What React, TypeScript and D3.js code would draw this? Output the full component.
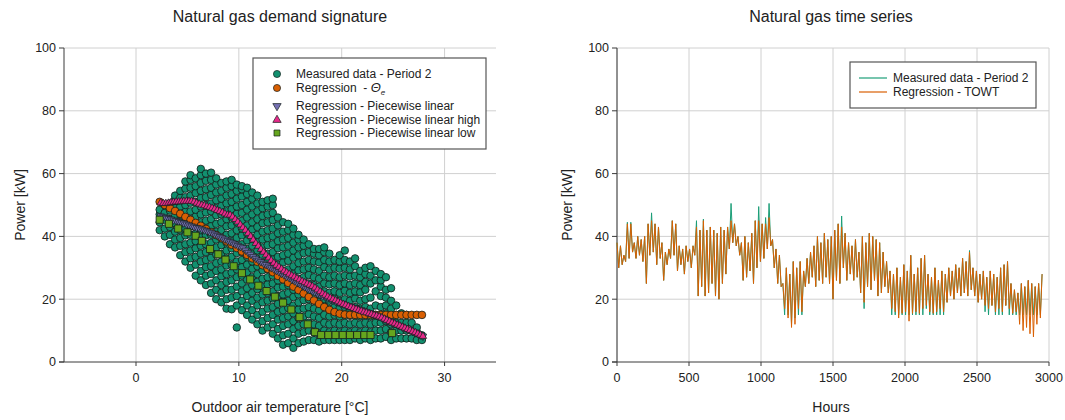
import React from 'react';
import { scaleLinear, line, symbol, symbolCircle, symbolTriangle, symbolSquare } from 'd3';

// ---- axes ----
const tempTicks = [0, 10, 20, 30];
const powerTicks = [0, 20, 40, 60, 80, 100];
const hourTicks = [0, 500, 1000, 1500, 2000, 2500, 3000];

// ---- left chart: measured cloud, one column of power values per temperature ----
const measuredCloud: [number, number[]][] = [
    [2.3, [42, 44.5, 47, 48.5]],
    [2.8, [40, 42.5, 45.3, 47.5, 50]],
    [3.3, [37.5, 40.5, 43, 45.5, 48.2, 50.5]],
    [3.8, [36.5, 39, 41.5, 44.2, 46.5, 49, 51.8, 53]],
    [4.3, [34, 37, 39.5, 42, 44.8, 47, 49.5, 52.3, 54.5]],
    [4.8, [32, 35, 37.5, 40.3, 42.5, 45, 47.8, 50, 52.5, 55.2, 57.5]],
    [5.3, [30, 33, 35.5, 38, 40.5, 43.2, 45.5, 48, 50.7, 53, 55.5, 58, 59.5]],
    [5.8, [27.5, 31, 33.5, 36.2, 38.5, 41, 43.5, 46.3, 48.5, 51, 53.8, 56, 58.5]],
    [6.3, [26, 29, 32, 34.5, 37, 39.7, 42, 44.5, 47, 49.5, 52.2, 54.5, 57, 59.5, 61.5]],
    [6.8, [24.5, 27.5, 30.2, 32.5, 35, 37.5, 40.3, 42.5, 45, 47.6, 50, 52.5, 55, 57.7, 60]],
    [7.3, [22, 25, 28, 30.5, 33.2, 35.5, 38, 40.5, 43.3, 45.5, 48, 50.5, 53.2, 55.5, 58, 60.3]],
    [7.8, [20, 23, 26, 29, 31.5, 34.2, 36.5, 39, 41.5, 44, 46.7, 49, 51.5, 54, 56.5, 58.5]],
    [8.3, [19, 22, 24.5, 27.3, 29.5, 32, 34.5, 37.2, 39.5, 42, 44.5, 47, 49.7, 52, 54.5, 57]],
    [8.8, [17, 20, 23, 25.5, 28, 30.7, 33, 35.5, 38, 40.5, 43.2, 45.5, 48, 50.5, 53, 55.5, 57.5]],
    [9.3, [16.8, 20.5, 23, 26, 28.5, 31, 33.5, 36.2, 38.5, 41, 43.5, 46, 48.7, 51, 53.5, 56, 58]],
    [9.8, [11, 18, 21, 24, 27, 29.5, 32, 34.7, 37, 39.5, 42, 44.5, 47.2, 49.5, 52, 54.5, 56.5]],
    [10.3, [16.5, 19.5, 22.5, 25, 27.5, 30.2, 32.5, 35, 37.5, 40.3, 42.5, 45, 47.5, 50, 52.7, 55, 56]],
    [10.8, [15, 18, 21, 23.5, 26.2, 28.5, 31, 33.5, 36, 38.7, 41, 43.5, 46, 48.5, 51, 53.5, 55.5]],
    [11.3, [13.5, 16.5, 19.5, 22, 24.5, 27, 29.7, 32, 34.5, 37, 39.5, 42.2, 44.5, 47, 49.5, 52, 54]],
    [11.8, [12, 15, 18, 20.5, 23.2, 25.5, 28, 30.5, 33, 35.5, 38.2, 40.5, 43, 45.5, 48, 50.5, 53]],
    [12.3, [10, 13, 16, 19, 21.5, 24, 26.5, 29.2, 31.5, 34, 36.5, 39, 41.5, 44.2, 46.5, 49, 51]],
    [12.8, [11, 14, 17, 19.5, 22, 24.7, 27, 29.5, 32, 34.5, 37.2, 39.5, 42, 44.5, 47, 49.5, 51.5]],
    [13.3, [9, 12, 15, 17.5, 20.2, 22.5, 25, 27.5, 30, 32.7, 35, 37.5, 40, 42.5, 45.2, 47.5, 50, 52]],
    [13.8, [7.5, 10.5, 13.5, 16, 18.5, 21, 23.7, 26, 28.5, 31, 33.5, 36.2, 38.5, 41, 43.5, 46]],
    [14.3, [5.5, 8.5, 11.5, 14, 16.5, 19.2, 21.5, 24, 26.5, 29, 31.7, 34, 36.5, 39, 41.5, 44.5]],
    [14.8, [6, 9, 12, 14.5, 17.2, 19.5, 22, 24.5, 27, 29.5, 32.2, 34.5, 37, 39.5, 42, 44]],
    [15.3, [4.5, 7.5, 10.5, 13, 15.5, 18, 20.7, 23, 25.5, 28, 30.5, 33.2, 35.5, 38, 40.5, 42.5]],
    [15.8, [6, 9, 11.5, 14, 16.7, 19, 21.5, 24, 26.5, 29.2, 31.5, 34, 36.5, 39, 40.5]],
    [16.3, [6.5, 9.5, 12, 14.5, 17, 19.7, 22, 24.5, 27, 29.5, 32, 34.7, 37, 39]],
    [16.8, [7, 10, 12.5, 15.2, 17.5, 20, 22.5, 25, 27.7, 30, 32.5, 35, 37.5]],
    [17.3, [7, 9.5, 12, 14.5, 17, 19.5, 22.2, 24.5, 27, 29.5, 32, 34.5, 36]],
    [17.8, [6.5, 9, 11.5, 14, 16.5, 19.2, 21.5, 24, 26.5, 29, 31.7, 34, 36]],
    [18.3, [7, 10, 12.5, 15, 17.7, 20, 22.5, 25, 27.5, 30.2, 32.5, 35, 36.5]],
    [18.8, [7, 9.5, 12, 14.5, 17, 19.5, 22, 24.7, 27, 29.5, 32, 34.5]],
    [19.3, [7, 10, 12.5, 15, 17.5, 20.2, 22.5, 25, 27.5, 30, 32.5]],
    [19.8, [7, 9.5, 12, 14.5, 17.2, 19.5, 22, 24.5, 27, 29.7, 32, 34]],
    [20.3, [7, 10, 12.5, 15, 17.5, 20, 22.7, 25, 27.5, 30, 32.5, 35.5]],
    [20.8, [7, 9.5, 12, 14.7, 17, 19.5, 22, 24.5, 27.2, 29.5, 32]],
    [21.3, [7.5, 10, 12.5, 15, 17.5, 20.2, 22.5, 25, 27.5, 30.5, 33]],
    [21.8, [7, 9.5, 12, 14.5, 17, 19.5, 22.2, 24.5, 27, 29]],
    [22.3, [7.5, 10, 12.5, 15, 17.5, 20, 23, 25.5, 28, 30]],
    [22.8, [7, 9.5, 12, 14.5, 17, 20.5, 25, 27.5, 30.5]],
    [23.3, [7.5, 10, 12.5, 15, 18, 22.5, 26, 29]],
    [23.8, [7.5, 10, 12.5, 15, 17.5, 21, 24, 26, 28]],
    [24.3, [8, 10.5, 13, 15.5, 18, 20.5, 23, 27]],
    [24.8, [7, 9.5, 12, 14.5, 17, 19.5, 23.5]],
    [25.3, [7.5, 10, 12.5, 15, 18]],
    [25.8, [7.5, 10, 12.5, 15.5]],
    [26.3, [7.5, 10, 12.5, 15]],
    [26.8, [7.5, 10, 12.5]],
    [27.3, [7, 9.5, 11]],
    [27.8, [7, 8.5]],
];

// regression - theta_e (orange circles)
const thetaTemps = [2.3, 2.8, 3.3, 3.8, 4.3, 4.8, 5.3, 5.8, 6.3, 6.8, 7.3, 7.8, 8.3, 8.8, 9.3, 9.8, 10.3, 10.8, 11.3, 11.8,
    12.3, 12.8, 13.3, 13.8, 14.3, 14.8, 15.3, 15.8, 16.3, 16.8, 17.3, 17.8, 18.3, 18.8, 19.3, 19.8, 20.3, 20.8,
    21.3, 21.8, 22.3, 22.8, 23.3, 23.8, 24.3, 24.8, 25.3, 25.8, 26.3, 26.8, 27.3, 27.8];
const thetaPowers = [51, 50, 49, 48.1, 47.2, 46.2, 45.3, 44.3, 43.4, 42.4, 41.4, 40.4, 39.4, 38.4, 37.3, 36.3, 35.2, 34.1, 33, 31.9,
    30.8, 29.7, 28.6, 27.4, 26.3, 25.2, 24, 22.9, 21.8, 20.7, 19.6, 18.5, 17.5, 16.6, 15.9, 15.4, 15.1, 15,
    15, 15, 15, 15, 15, 15, 15, 15, 15, 15, 15, 15, 15, 15];

// piecewise linear (purple) and high (pink) share the temperatures
const pieceTemps = [2.4, 2.65, 2.9, 3.15, 3.4, 3.65, 3.9, 4.15, 4.4, 4.65, 4.9, 5.15, 5.4, 5.65, 5.9, 6.15, 6.4, 6.65, 6.9, 7.15,
    7.4, 7.65, 7.9, 8.15, 8.4, 8.65, 8.9, 9.15, 9.4, 9.65, 9.9, 10.15, 10.4, 10.65, 10.9, 11.15, 11.4, 11.65, 11.9, 12.15,
    12.4, 12.65, 12.9, 13.15, 13.4, 13.65, 13.9, 14.15, 14.4, 14.65, 14.9, 15.15, 15.4, 15.65, 15.9, 16.15, 16.4, 16.65, 16.9, 17.15,
    17.4, 17.65, 17.9, 18.15, 18.4, 18.65, 18.9, 19.15, 19.4, 19.65, 19.9, 20.15, 20.4, 20.65, 20.9, 21.15, 21.4, 21.65, 21.9, 22.15,
    22.4, 22.65, 22.9, 23.15, 23.4, 23.65, 23.9, 24.15, 24.4, 24.65, 24.9, 25.15, 25.4, 25.65, 25.9, 26.15, 26.4, 26.65, 26.9, 27.15,
    27.4, 27.65, 27.9];
const piecePowers = [46.5, 46.2, 46, 45.7, 45.5, 45.2, 45, 44.7, 44.4, 44.2, 43.9, 43.6, 43.3, 43, 42.8, 42.6, 42.3, 42, 41.7, 41.4,
    41.1, 40.7, 40.3, 39.9, 39.5, 39.1, 38.7, 38.3, 37.9, 37.5, 37.1, 36.7, 36.3, 35.6, 34.9, 34.3, 33.6, 33, 32.4, 31.9,
    31.4, 31, 30.5, 30, 29.6, 29.1, 28.7, 28.2, 27.7, 27.2, 26.8, 26.3, 25.8, 25.3, 24.9, 24.4, 23.9, 23.4, 23, 22.6,
    22.2, 21.8, 21.4, 21, 20.7, 20.3, 20, 19.6, 19.3, 19, 18.7, 18.4, 18.1, 17.8, 17.6, 17.3, 17.1, 16.8, 16.6, 16.3,
    16, 15.7, 15.4, 15.1, 14.8, 14.5, 14.1, 13.7, 13.3, 12.9, 12.5, 12.2, 11.8, 11.5, 11.1, 10.8, 10.4, 10.1, 9.7, 9.4,
    9, 8.6, 8.2];
const highPowers = [50.7, 50.5, 50.5, 50.6, 50.8, 50.9, 51, 51, 51.1, 51.2, 51.2, 51.2, 51.2, 51, 50.6, 50.3, 50, 49.8, 49.5, 49.3,
    49, 48.7, 48.3, 48, 47.6, 47.2, 46.8, 46.8, 46.2, 45.4, 44.6, 43.7, 42.8, 42, 41, 40, 38.9, 37.8, 36.9, 35.9,
    35, 34.1, 33.2, 32.3, 31.5, 30.8, 30.2, 29.6, 29, 28.5, 28, 27.5, 27.1, 26.6, 26.2, 25.7, 25.3, 24.9, 24.5, 24.1,
    23.6, 23, 22.4, 21.8, 21.3, 20.8, 20.4, 20, 19.6, 19.2, 18.8, 18.4, 18.1, 17.7, 17.4, 17.1, 16.8, 16.5, 16.2, 15.9,
    15.7, 15.4, 15.2, 14.9, 14.7, 14.4, 14.1, 13.7, 13.3, 12.9, 12.5, 12.2, 11.8, 11.5, 11.1, 10.8, 10.4, 10.1, 9.7, 9.4,
    9, 8.6, 8.2];

// piecewise linear low (green squares)
const lowTemps = [2.3, 3.2, 4.1, 5.0, 5.8, 6.4, 7.2, 8.0, 8.7, 9.5, 10.3, 11.1, 11.9, 12.7, 13.5, 14.3, 15.1, 15.9, 16.7, 17.4,
    18.0, 18.7, 19.4, 20.1, 20.8, 21.5, 22.2, 22.8, 24.9];
const lowPowers = [45.3, 44, 42.5, 41.3, 40.2, 38.6, 36, 34.3, 32.6, 30.5, 28.3, 26.3, 24.3, 22.6, 20.8, 18.9, 16.7, 14.3, 12, 9.5,
    8.6, 8.6, 8.6, 8.6, 8.6, 8.6, 8.6, 8.6, 9.2];

// ---- right chart: values every 12 hours (day peak, night low) ----
const stepHours = 12;
const measuredHourly = [
    38, 30, 37, 31, 34, 32, 44.5, 33, 44.5, 35, 38, 33, 40, 34, 39, 32, 40, 25, 44, 34,
    47.5, 35, 44, 31, 43, 33, 38, 26, 35, 31, 36, 33, 45, 34, 44, 29, 37, 31, 36, 28,
    37, 32, 36, 30, 37, 34, 45, 21, 42, 24, 45.5, 21, 42, 22, 43, 25, 42, 21, 41, 20,
    43, 25, 42, 28, 43, 36, 50.5, 38, 44, 37, 40, 34, 38, 26, 40, 27, 38, 29, 41, 25,
    45, 30, 49.5, 32, 44, 33, 46, 36, 50.5, 37, 39, 30, 36, 25, 34, 24, 25, 15, 30, 15,
    28, 12, 32, 14, 30, 15, 32, 15, 29, 24, 33, 25, 35, 27, 37, 24, 40, 26, 38, 25,
    41, 27, 39, 25, 40, 20, 42, 26, 44, 25, 46.5, 30, 41, 26, 38, 28, 37, 26, 39, 27,
    35, 22, 40, 17, 38, 24, 41, 23, 40, 26, 39, 21, 38, 22, 35, 24, 32, 22, 29, 15,
    28, 15, 30, 15, 27, 15, 31, 15, 29, 15, 34, 15, 28, 15, 30, 15, 33, 15, 34, 17,
    28, 15, 27, 15, 30, 15, 26, 15, 29, 15, 28, 19, 30, 21, 29, 20, 31, 22, 30, 21,
    33, 22, 32, 21, 35.5, 23, 30, 21, 29, 19, 28, 20, 29, 16, 27, 15, 29, 18, 28, 15,
    27, 15, 30, 15, 31, 18, 32, 15, 25, 15, 23, 15, 22, 15, 25, 15, 24, 15, 26, 15,
    25, 15, 24, 15, 25, 15, 28,
];
const towtHourly = [
    38, 30, 37, 31, 34, 32, 44, 33, 44, 35, 38, 33, 40, 34, 39, 32, 40, 25, 44, 34,
    45, 35, 44, 31, 43, 33, 38, 26, 35, 31, 36, 33, 45, 34, 44, 29, 37, 31, 36, 28,
    37, 32, 36, 30, 37, 34, 43, 21, 42, 24, 45, 21, 42, 22, 43, 25, 42, 21, 41, 20,
    43, 25, 42, 28, 43, 36, 45, 38, 44, 37, 40, 34, 38, 26, 40, 27, 38, 29, 41, 25,
    45, 30, 45, 32, 44, 33, 44, 36, 46, 37, 39, 30, 36, 25, 34, 24, 25, 17, 30, 14,
    28, 11, 32, 12, 30, 17, 32, 16, 29, 24, 33, 25, 35, 27, 37, 24, 40, 26, 38, 25,
    41, 27, 39, 25, 40, 20, 42, 26, 44, 25, 43, 30, 41, 26, 38, 28, 37, 26, 39, 27,
    35, 22, 40, 19, 38, 24, 41, 23, 40, 26, 39, 21, 38, 22, 35, 24, 32, 22, 29, 17,
    28, 16, 30, 14, 27, 15.5, 31, 16, 29, 13, 34, 15.5, 28, 16, 30, 15.5, 33, 17, 34, 18,
    28, 16, 27, 15.5, 30, 16, 26, 17, 29, 16, 28, 19, 30, 21, 29, 20, 31, 22, 30, 21,
    33, 22, 32, 21, 35, 23, 30, 21, 29, 19, 28, 20, 29, 18, 27, 17, 29, 18, 28, 16,
    27, 17, 30, 16, 31, 18, 32, 17, 25, 15.5, 23, 16, 22, 12, 25, 10, 24, 11, 26, 9,
    25, 8, 24, 12, 25, 14, 28,
];

const teal = '#1b9e77';
const dotTeal = '#12906f';
const orange = '#d95f02';
const purple = '#7570b3';
const pink = '#e7298a';
const green = '#66a61e';
const edge = '#14201c';
const grid = '#d0d0d0';
const axisColor = '#3a3a3a';
const font = "'Liberation Sans', Arial, sans-serif";

const plotTop = 48;
const plotBottom = 362;

const Frame = (props: { x: any, y: any, xTicks: number[], xLeft: number, xRight: number, xTitle: string, title: string, titleX: number, yTitleX: number }) => {
    const { x, y } = props;
    return (
        <g fontFamily={font} fill='#222'>
            {props.xTicks.map(t => <line key={'gx' + t} x1={x(t)} x2={x(t)} y1={plotTop} y2={plotBottom} stroke={grid} />)}
            {powerTicks.filter(t => t > 0).map(t => <line key={'gy' + t} x1={props.xLeft} x2={props.xRight} y1={y(t)} y2={y(t)} stroke={grid} />)}
            <line x1={props.xLeft} x2={props.xLeft} y1={plotTop} y2={plotBottom} stroke={axisColor} />
            <line x1={props.xLeft - 5} x2={props.xRight} y1={plotBottom} y2={plotBottom} stroke={axisColor} />
            {powerTicks.map(t => <g key={'ty' + t}>
                <line x1={props.xLeft - 5} x2={props.xLeft} y1={y(t)} y2={y(t)} stroke={axisColor} />
                <text x={props.xLeft - 8} y={y(t)} dy='0.35em' textAnchor='end' fontSize={12.5}>{t}</text>
            </g>)}
            {props.xTicks.map(t => <g key={'tx' + t}>
                <line x1={x(t)} x2={x(t)} y1={plotBottom} y2={plotBottom + 4} stroke={axisColor} />
                <text x={x(t)} y={plotBottom + 20} textAnchor='middle' fontSize={12.5}>{t}</text>
            </g>)}
            <text x={props.titleX} y={22} textAnchor='middle' fontSize={16}>{props.title}</text>
            <text x={props.titleX} y={412} textAnchor='middle' fontSize={14}>{props.xTitle}</text>
            <text transform={`translate(${props.yTitleX},205) rotate(-90)`} textAnchor='middle' fontSize={14}>Power [kW]</text>
        </g>
    );
}

const App = () => {
    // left chart scales
    const xT = scaleLinear().domain([-7, 35]).range([64, 496]);
    const yL = scaleLinear().domain([0, 100]).range([plotBottom, plotTop]);
    // right chart scales
    const xH = scaleLinear().domain([0, 3000]).range([617, 1049]);
    const yR = scaleLinear().domain([0, 100]).range([plotBottom, plotTop]);

    const circle = symbol().type(symbolCircle).size(44)();
    const orangeDot = symbol().type(symbolCircle).size(46)();
    const triUp = symbol().type(symbolTriangle).size(24)();
    const square = symbol().type(symbolSquare).size(50)();
    const circleLeg = symbol().type(symbolCircle).size(40)();
    const triLeg = symbol().type(symbolTriangle).size(30)();
    const squareLeg = symbol().type(symbolSquare).size(36)();

    const tsLine = line<number>().x((d, i) => xH(i * stepHours)).y(d => yR(d));

    const dots: JSX.Element[] = [];
    measuredCloud.forEach(([t, ps]) => ps.forEach((p, j) => dots.push(
        <path key={t + '-' + j} d={circle} transform={`translate(${xT(t)},${yL(p)})`} fill={dotTeal} stroke={edge} strokeWidth={0.85} />
    )));

    return (
        <svg width={1065} height={420} style={{ position: 'absolute', left: 0, top: 0, background: '#fff' }}>
            <Frame x={xT} y={yL} xTicks={tempTicks} xLeft={64} xRight={496} xTitle='Outdoor air temperature [°C]'
                title='Natural gas demand signature' titleX={280} yTitleX={25} />
            <Frame x={xH} y={yR} xTicks={hourTicks} xLeft={617} xRight={1049} xTitle='Hours'
                title='Natural gas time series' titleX={831} yTitleX={572} />

            {/* demand signature */}
            <g>{dots}</g>
            <g>
                {thetaTemps.map((t, i) => <path key={'o' + i} d={orangeDot} transform={`translate(${xT(t)},${yL(thetaPowers[i])})`} fill={orange} stroke={edge} strokeWidth={0.8} />)}
            </g>
            <g>
                {pieceTemps.map((t, i) => <path key={'p' + i} d={triUp} transform={`translate(${xT(t)},${yL(piecePowers[i])}) rotate(180)`} fill={purple} stroke={edge} strokeWidth={0.7} />)}
            </g>
            <g>
                {pieceTemps.map((t, i) => <path key={'h' + i} d={triUp} transform={`translate(${xT(t)},${yL(highPowers[i])})`} fill={pink} stroke={edge} strokeWidth={0.7} />)}
            </g>
            <g>
                {lowTemps.map((t, i) => <path key={'l' + i} d={square} transform={`translate(${xT(t)},${yL(lowPowers[i])})`} fill={green} stroke={edge} strokeWidth={0.8} />)}
            </g>

            {/* left legend */}
            <g fontFamily={font} fontSize={12} fill='#222'>
                <rect x={253} y={58} width={233} height={91} fill='#fff' stroke='#555' strokeWidth={1.2} />
                <path d={circleLeg} transform='translate(277,74)' fill={dotTeal} stroke={edge} strokeWidth={0.7} />
                <text x={296} y={74} dy='0.35em'>Measured data - Period 2</text>
                <path d={circleLeg} transform='translate(277,88)' fill={orange} stroke={edge} strokeWidth={0.7} />
                <text x={296} y={88} dy='0.35em' style={{ whiteSpace: 'pre' }}>Regression  - <tspan fontStyle='italic' fontSize={13}>Θ</tspan><tspan fontStyle='italic' fontSize={8} dy={3}>e</tspan></text>
                <path d={triLeg} transform='translate(277,106) rotate(180)' fill={purple} stroke={edge} strokeWidth={0.7} />
                <text x={296} y={106} dy='0.35em'>Regression - Piecewise linear</text>
                <path d={triLeg} transform='translate(277,120)' fill={pink} stroke={edge} strokeWidth={0.7} />
                <text x={296} y={120} dy='0.35em'>Regression - Piecewise linear high</text>
                <path d={squareLeg} transform='translate(277,133)' fill={green} stroke={edge} strokeWidth={0.7} />
                <text x={296} y={133} dy='0.35em'>Regression - Piecewise linear low</text>
            </g>

            {/* time series */}
            <path d={tsLine(measuredHourly) || ''} fill='none' stroke={teal} strokeWidth={1} strokeLinejoin='round' />
            <path d={tsLine(towtHourly) || ''} fill='none' stroke={orange} strokeWidth={1} strokeLinejoin='round' />

            {/* right legend */}
            <g fontFamily={font} fontSize={12} fill='#222'>
                <rect x={850} y={62} width={186} height={46} fill='#fff' stroke='#555' strokeWidth={1.2} />
                <line x1={859} x2={887} y1={78} y2={78} stroke={teal} strokeWidth={1.2} />
                <text x={893} y={78} dy='0.35em'>Measured data - Period 2</text>
                <line x1={859} x2={887} y1={92} y2={92} stroke={orange} strokeWidth={1.2} />
                <text x={893} y={92} dy='0.35em'>Regression - TOWT</text>
            </g>
        </svg>
    );
}

export default App;
